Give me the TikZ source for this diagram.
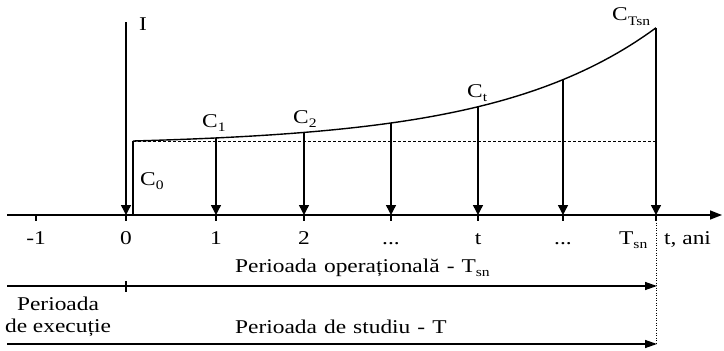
\documentclass[tikz,border=0pt]{standalone}
\usepackage{fontspec}
\setmainfont{Liberation Serif}[FakeStretch=1.2]
\usetikzlibrary{arrows.meta}
\newcommand{\lsub}[1]{\raisebox{-4.5pt}{\fontsize{13}{13}\selectfont #1}}
\newcommand{\widesp}{\spaceskip=0.36em\relax}
\begin{document}
\begin{tikzpicture}[x=1pt,y=-1pt,
  declare function={cy(\t)=141-4.5*(exp(0.00624*(\t-133))-1);},
  every node/.style={inner sep=0pt, font=\fontsize{19.5}{22}\selectfont},
  ln/.style={line width=1.4pt},
  dn/.style={ln, -{Triangle[length=10pt,width=10pt]}},
  tl/.style={ln, -{Triangle[length=12pt,width=8pt]}},
  tick/.style={line width=1.4pt},
  lbl/.style={anchor=base west},
  axl/.style={anchor=base}]
\useasboundingbox (0,0) rectangle (724,351);
% axis
\coordinate (axL) at (7,215);
\coordinate (axR) at (722,215);
\draw[ln, -{Triangle[length=12pt,width=9pt]}] (axL) -- (axR);
\foreach \n/\x in {m1/36, 0/126, 1/216, 2/304, 3/391, 4/478, 5/563, 6/656} {
  \coordinate (a\n) at (\x,215);
  \coordinate (b\n) at (\x,221);
  \draw[tick] (a\n) -- (b\n);
}
% axis labels
\node[axl] (lm1) at (36,244) {-1};
\node[axl] (l0) at (126,244) {0};
\node[axl] (l1) at (216,244) {1};
\node[axl] (l2) at (304,244) {2};
\node[axl] (l3) at (391,244) {...};
\node[axl] (l4) at (478,244) {t};
\node[axl] (l5) at (563,244) {...};
\node[lbl] (l6) at (619,244) {T\lsub{sn}};
\node[lbl] (lt) at (664,244) {t, ani};
% investment arrow
\coordinate (itop) at (126,22);
\draw[dn] (itop) -- (a0);
\node[lbl] (I) at (139,30) {I};
% C0 step
\coordinate (c0b) at (133,215);
\coordinate (c0) at (133,141);
\coordinate (dend) at (656,141);
\draw[ln] (c0b) -- (c0);
\draw[line width=0.9pt, dash pattern=on 3pt off 2pt] (c0) -- (dend);
% curve
\draw[ln] plot[domain=133:656, samples=80] (\x,{cy(\x)});
\foreach \n/\x in {1/216, 2/304, 3/391, 4/478, 5/563, 6/656} {
  \coordinate (c\n) at (\x,{cy(\x)});
  \draw[dn] (c\n) -- (a\n);
}
% labels C
\node[lbl] (C0) at (140,185) {C\lsub{0}};
\node[lbl] (C1) at (202,127) {C\lsub{1}};
\node[lbl] (C2) at (293,123) {C\lsub{2}};
\node[lbl] (Ct) at (467,97) {C\lsub{t}};
\node[lbl] (CT) at (612,20) {C\raisebox{-5pt}{\fontsize{13}{13}\selectfont Tsn}};
% dotted vertical
\coordinate (vbot) at (656,344);
\draw[line width=1pt, dash pattern=on 1pt off 1.5pt] (a6) -- (vbot);
% operational period line
\coordinate (oL) at (7,286);
\coordinate (oR) at (657,286);
\draw[tl] (oL) -- (oR);
\coordinate (ot1) at (126,281);
\coordinate (ot2) at (126,292);
\draw[tick] (ot1) -- (ot2);
\node[lbl] (op) at (235,272) {\widesp Perioada operațională - T\lsub{sn}};
% study period line
\coordinate (sL) at (7,344);
\coordinate (sR) at (657,344);
\draw[tl] (sL) -- (sR);
\node[lbl] (st) at (235,333) {\widesp Perioada de studiu - T};
\node[align=center] (ex) at (58,317) {Perioada\\de execuție};
\end{tikzpicture}
\end{document}
